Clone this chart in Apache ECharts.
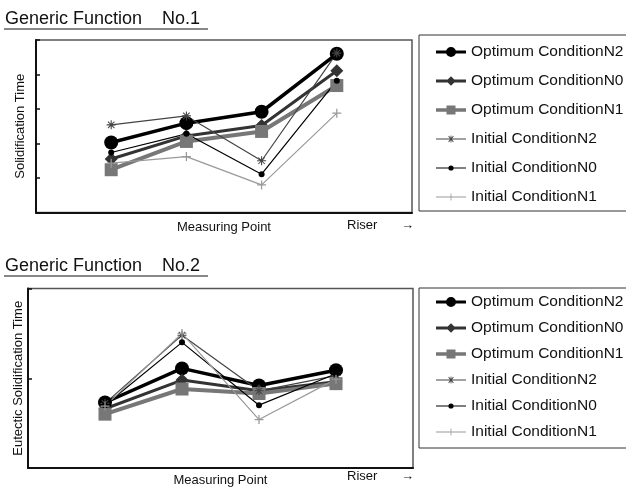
<!DOCTYPE html>
<html>
<head>
<meta charset="utf-8">
<script src="https://cdn.jsdelivr.net/npm/echarts@6/dist/echarts.min.js"></script>
<style>
  html, body { margin: 0; padding: 0; background: #fff; }
  #chart { width: 626px; height: 488px; }
</style>
</head>
<body>
<div id="chart"></div>
<script>
// measuring points along the casting (last one is the riser)
const points = [1, 2, 3, 4];
const seriesNames = [
  "Optimum ConditionN2",
  "Optimum ConditionN0",
  "Optimum ConditionN1",
  "Initial ConditionN2",
  "Initial ConditionN0",
  "Initial ConditionN1",
];

// Generic Function No.1 - solidification time (no tick labels, 0..5)
const optN2A = [2.03, 2.59, 2.92, 4.60];
const optN0A = [1.55, 2.22, 2.52, 4.11];
const optN1A = [1.24, 2.06, 2.35, 3.68];
const iniN2A = [2.54, 2.80, 1.50, 4.62];
const iniN0A = [1.74, 2.28, 1.11, 3.82];
const iniN1A = [1.43, 1.62, 0.80, 2.88];

// Generic Function No.2 - eutectic solidification time (0..2)
const optN2B = [0.73, 1.11, 0.92, 1.09];
const optN0B = [0.66, 0.98, 0.86, 0.96];
const optN1B = [0.60, 0.88, 0.83, 0.94];
const iniN2B = [0.72, 1.48, 0.86, 1.03];
const iniN0B = [0.70, 1.40, 0.70, 1.05];
const iniN1B = [0.69, 1.50, 0.54, 0.99];

const FONT = "'Liberation Sans', Arial, sans-serif";
const asterisk =
  "path://M4.4,0h1.2v10h-1.2z M0,4.4h10v1.2h-10z M1,1.8L1.8,1L9,8.2L8.2,9z M8.2,1L9,1.8L1.8,9L1,8.2z";
const plus = "path://M4.3,0h1.4v4.3h4.3v1.4h-4.3v4.3h-1.4v-4.3h-4.3v-1.4h4.3z";

// visual style of each series, same order as seriesNames
const styles = [
  { color: "#000", width: 3.5, symbol: "circle", size: 14 },
  { color: "#333", width: 3, symbol: "diamond", size: 13 },
  { color: "#777", width: 4, symbol: "rect", size: 13 },
  { color: "#444", width: 1.2, symbol: asterisk, size: 9 },
  { color: "#000", width: 1.2, symbol: "circle", size: 6 },
  { color: "#999", width: 1.2, symbol: plus, size: 9 },
];

// legend icons: a short line with a small marker, drawn in a 30x14 box
// (two tiny corner squares pin the box so the path is not stretched)
const pin = "M0,0h0.01v0.01h-0.01z M29.99,13.99h0.01v0.01h-0.01z ";
function bar(t) {
  return "M0," + (7 - t / 2) + "h30v" + t + "h-30z ";
}
const legendIcons = [
  "path://" + pin + bar(3) + "M10,7a5,5 0 1,1 10,0a5,5 0 1,1 -10,0z",
  "path://" + pin + bar(3) + "M15,2.2L19.8,7L15,11.8L10.2,7z",
  "path://" + pin + bar(3.5) + "M10.5,2.5h9v9h-9z",
  "path://" + pin + bar(1.2) +
    "M14.6,3.5h0.8v7h-0.8z M11.5,6.6h7v0.8h-7z M12.3,4.4L12.9,3.8L17.7,9.6L17.1,10.2z M17.1,3.8L17.7,4.4L12.9,10.2L12.3,9.6z",
  "path://" + pin + bar(1.2) + "M12.4,7a2.6,2.6 0 1,1 5.2,0a2.6,2.6 0 1,1 -5.2,0z",
  "path://" + pin + bar(1.2) + "M14.6,3.5h0.8v3.1h3.1v0.8h-3.1v3.1h-0.8v-3.1h-3.1v-0.8h3.1z",
];

function makeSeries(values, idx) {
  return values.map((vals, i) => ({
    name: seriesNames[i],
    type: "line",
    xAxisIndex: idx,
    yAxisIndex: idx,
    data: points.map((p, k) => [p, vals[k]]),
    symbol: styles[i].symbol,
    symbolSize: styles[i].size,
    color: styles[i].color,
    lineStyle: { color: styles[i].color, width: styles[i].width },
    itemStyle: { color: styles[i].color },
    animation: false,
  }));
}

function axisPair(gridIndex, yMax, yName, yGap, xGap) {
  const axisLine = { lineStyle: { color: "#111", width: 2 } };
  return {
    x: {
      type: "value",
      gridIndex: gridIndex,
      min: 0,
      max: 5,
      interval: 1,
      axisLine: axisLine,
      axisTick: { show: false },
      axisLabel: { show: false },
      splitLine: { show: false },
      name: "Measuring Point",
      nameLocation: "middle",
      nameGap: xGap,
      nameTextStyle: { fontSize: 13, color: "#111", fontFamily: FONT },
    },
    y: {
      type: "value",
      gridIndex: gridIndex,
      min: 0,
      max: yMax,
      interval: 1,
      axisLine: { show: true, lineStyle: { color: "#111", width: 2 } },
      axisTick: { show: true, inside: true, length: 4, lineStyle: { color: "#111", width: 1.5 } },
      axisLabel: { show: false },
      splitLine: { show: false },
      name: yName,
      nameLocation: "middle",
      nameGap: yGap,
      nameTextStyle: { fontSize: 13, color: "#111", fontFamily: FONT },
    },
  };
}

const axesA = axisPair(0, 5, "Solidification Time", 9, 8);
const axesB = axisPair(1, 2, "Eutectic Solidification Time", 3, 6);

function legendBox(top, padding, gap) {
  return {
    orient: "vertical",
    left: 419,
    top: top,
    padding: padding,
    itemGap: gap,
    itemWidth: 30,
    itemHeight: 14,
    borderColor: "#333",
    borderWidth: 1,
    borderRadius: 0,
    data: seriesNames.map((n, i) => ({
      name: n,
      icon: legendIcons[i],
      itemStyle: { borderWidth: 0 },
    })),
    selectedMode: false,
    textStyle: { fontSize: 15.5, color: "#111", fontFamily: FONT },
  };
}

function title(text, y) {
  return [
    {
      type: "text",
      left: 5,
      top: y - 8,
      style: { text: text, font: "18px " + FONT, fill: "#111" },
    },
    {
      type: "line",
      shape: { x1: 4, y1: y + 10.5, x2: 208, y2: y + 10.5 },
      style: { stroke: "#111", lineWidth: 1 },
    },
  ];
}

function riser(y) {
  return [
    { type: "text", left: 347, top: y - 8, style: { text: "Riser", font: "13px " + FONT, fill: "#111" } },
    { type: "text", left: 401, top: y - 8, style: { text: "\u2192", font: "13px " + FONT, fill: "#111" } },
  ];
}

const chart = echarts.init(document.getElementById("chart"));
chart.setOption({
  backgroundColor: "#fff",
  textStyle: { fontFamily: FONT },
  grid: [
    { left: 36, top: 40, width: 376, height: 172.5, show: true, borderColor: "#555", borderWidth: 1.5, backgroundColor: "transparent" },
    { left: 28, top: 288.5, width: 385, height: 180.5, show: true, borderColor: "#555", borderWidth: 1.5, backgroundColor: "transparent" },
  ],
  xAxis: [axesA.x, axesB.x],
  yAxis: [axesA.y, axesB.y],
  legend: [legendBox(35, [9, 20, 6, 17], 13), legendBox(288, [6, 20, 8, 17], 10)],
  graphic: [].concat(
    title("Generic Function    No.1", 18.5),
    title("Generic Function    No.2", 265.5),
    riser(227),
    riser(478)
  ),
  series: [].concat(
    makeSeries([optN2A, optN0A, optN1A, iniN2A, iniN0A, iniN1A], 0),
    makeSeries([optN2B, optN0B, optN1B, iniN2B, iniN0B, iniN1B], 1)
  ),
});
</script>
</body>
</html>
